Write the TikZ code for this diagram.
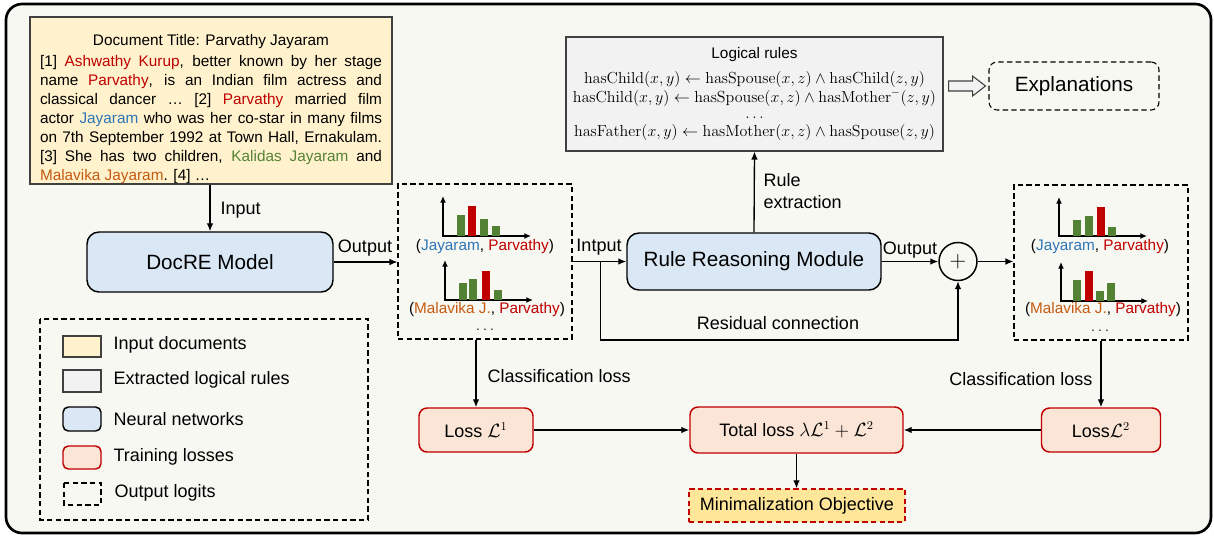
\documentclass[tikz,border=0pt]{standalone}
\usepackage[no-math]{fontspec}
\setmainfont{Liberation Sans}
\usetikzlibrary{arrows.meta,calc}

\definecolor{docyellow}{HTML}{FFF2CC}
\definecolor{rulegray}{HTML}{F2F2F2}
\definecolor{nnblue}{HTML}{DAE8F5}
\definecolor{losspink}{HTML}{FBE5D6}
\definecolor{lossred}{HTML}{C00000}
\definecolor{minyellow}{HTML}{FFE699}
\definecolor{bgcream}{HTML}{F8F8F2}
\definecolor{txtblue}{HTML}{2E75B6}
\definecolor{txtgreen}{HTML}{548235}
\definecolor{txtorange}{HTML}{C55A11}
\definecolor{edgegray}{HTML}{404040}

\tikzset{
  nnbox/.style={draw=black, line width=1.1pt, fill=nnblue, rounded corners=9pt, font=\fontsize{15.5}{18}\selectfont},
  lossbox/.style={draw=lossred, line width=1.1pt, fill=losspink, rounded corners=6pt, font=\fontsize{13.5}{16}\selectfont},
  logitbox/.style={draw, line width=0.8pt, dash pattern=on 4pt off 2.5pt},
  lbl/.style={font=\fontsize{13.5}{17}\selectfont, inner sep=1pt},
  small/.style={font=\fontsize{11.5}{14.25}\selectfont, inner sep=1pt},
  flow/.style={-{Latex[length=6pt,width=5pt]}, line width=1pt},
  axis/.style={{Latex[length=5pt,width=4.5pt]}-{Latex[length=5pt,width=4.5pt]}, line width=1.2pt},
}

\begin{document}
\begin{tikzpicture}[x=0.75pt,y=-0.75pt]
    \useasboundingbox (0,0) rectangle (1214,537);
    \draw[line width=2pt, fill=bgcream, rounded corners=12pt] (6,4) rectangle (1211,533);  % frame

    % input document
    \node[draw=edgegray, line width=0.8pt, fill=docyellow, minimum width=271.5pt, minimum height=125.25pt] (doc) at (211,100.5) {};
    \node[anchor=north, inner sep=0pt, text width=256.5pt, align=justify, font=\fontsize{11.5}{14.25}\selectfont] (docText) at (211,34) {%
        \centerline{Document Title: Parvathy Jayaram}\par\vspace{1.5pt}
        [1] \textcolor{lossred}{Ashwathy Kurup}, better known by her stage\break
        name \textcolor{lossred}{Parvathy}, is an Indian film actress and\break
        classical dancer … [2] \textcolor{lossred}{Parvathy} married film\break
        actor \textcolor{txtblue}{Jayaram} who was her co-star in many films\break
        on 7th September 1992 at Town Hall, Ernakulam.\break
        [3] She has two children, \textcolor{txtgreen}{Kalidas Jayaram} and\break
        \textcolor{txtorange}{Malavika Jayaram}. [4] …};

    % models
    \node[nnbox, minimum width=184.5pt, minimum height=45pt] (docre) at (210,262) {DocRE Model};
    \node[nnbox, minimum width=190.5pt, minimum height=42.75pt] (rrm) at (754,261.5) {Rule Reasoning Module};
    \node[draw, circle, line width=1.1pt, minimum size=28.5pt, inner sep=0pt, font=\fontsize{17}{17}\selectfont] (plus) at (958,261.5) {$+$};

    % logical rules
    \node[draw=edgegray, line width=0.8pt, fill=rulegray, minimum width=282.75pt, minimum height=85.5pt,
          align=center, font=\fontsize{11.8}{14.25}\selectfont] (rules) at (754.5,94) {%
        {\fontsize{11.5}{14}\selectfont Logical rules}\\[4pt]
        $\mathrm{hasChild}(x,y) \leftarrow \mathrm{hasSpouse}(x,z) \land \mathrm{hasChild}(z,y)$\\
        $\mathrm{hasChild}(x,y) \leftarrow \mathrm{hasSpouse}(x,z) \land \mathrm{hasMother}^{-}(z,y)$\\[-2pt]
        $\ldots$\\[-1pt]
        $\mathrm{hasFather}(x,y) \leftarrow \mathrm{hasMother}(x,z) \land \mathrm{hasSpouse}(z,y)$};
    \node[draw, line width=0.8pt, dash pattern=on 4pt off 2.5pt, rounded corners=6pt, minimum width=127.5pt,
          minimum height=36pt, font=\fontsize{15.5}{18}\selectfont] (expl) at (1074,86) {Explanations};

    % output logits
    \node[logitbox, minimum width=130.5pt, minimum height=116.25pt] (logitsA) at (485,261.5) {};
    \node[logitbox, minimum width=130.5pt, minimum height=116.25pt] (logitsB) at (1101,262.5) {};

    \draw[axis] (443,196) -- (443,236) -- (531,236);
    \foreach \xa/\ya/\c in {457/215/txtgreen, 468/206/lossred, 480/219/txtgreen, 492/226/txtgreen}
        \fill[\c] (\xa,236) rectangle (\xa+8,\ya);
    \node[small] (pairA1) at (485,247) {(\textcolor{txtblue}{Jayaram}, \textcolor{lossred}{Parvathy})};
    \draw[axis] (445,260) -- (445,300) -- (533,300);
    \foreach \xa/\ya/\c in {459/283/txtgreen, 469/279/txtgreen, 482/271/lossred, 494/290/txtgreen}
        \fill[\c] (\xa,300) rectangle (\xa+8,\ya);
    \node[small] (pairA2) at (487,310) {(\textcolor{txtorange}{Malavika J.}, \textcolor{lossred}{Parvathy})};
    \node[inner sep=0pt, font=\fontsize{11.5}{14}\selectfont] (dotsA) at (485,330) {$\ldots$};

    \draw[axis] (1059,197) -- (1059,236) -- (1147,236);
    \foreach \xa/\ya/\c in {1073/220/txtgreen, 1085/216/txtgreen, 1097/207/lossred, 1108/227/txtgreen}
        \fill[\c] (\xa,236) rectangle (\xa+8,\ya);
    \node[small] (pairB1) at (1100,247) {(\textcolor{txtblue}{Jayaram}, \textcolor{lossred}{Parvathy})};
    \draw[axis] (1061,262) -- (1061,301) -- (1148,301);
    \foreach \xa/\ya/\c in {1073/280/txtgreen, 1085/271/lossred, 1096/291/txtgreen, 1107/283/txtgreen}
        \fill[\c] (\xa,301) rectangle (\xa+8,\ya);
    \node[small] (pairB2) at (1103,310) {(\textcolor{txtorange}{Malavika J.}, \textcolor{lossred}{Parvathy})};
    \node[inner sep=0pt, font=\fontsize{11.5}{14}\selectfont] (dotsB) at (1100,331) {$\ldots$};

    % losses
    \node[lossbox, minimum width=85.5pt, minimum height=33pt] (loss1) at (476,430) {Loss $\mathcal{L}^1$};
    \node[lossbox, minimum width=159.75pt, minimum height=34.5pt] (total) at (796.5,430) {Total loss $\lambda\mathcal{L}^1+\mathcal{L}^2$};
    \node[lossbox, minimum width=89.25pt, minimum height=33pt] (loss2) at (1101,430) {Loss$\mathcal{L}^2$};
    \node[draw=lossred, line width=1.1pt, dash pattern=on 4pt off 2.5pt, fill=minyellow, minimum width=162pt,
          minimum height=24.75pt, font=\fontsize{13.5}{16}\selectfont] (minobj) at (797,505.5) {Minimalization Objective};

    % connectors
    \draw[flow] (doc.south -| docre.north) -- (docre.north);
    \node[lbl, anchor=west] (lbInput) at (219,210) {Input};
    \draw[flow] (docre.east) -- (docre.east -| logitsA.west);
    \node[lbl] (lbOutA) at (365,248) {Output};
    \draw[flow] (logitsA.east |- rrm.west) -- (rrm.west);
    \node[lbl] (lbIn) at (599,247) {Intput};
    \coordinate (resStart) at ($(logitsA.east |- rrm.west)+(28,0)$);
    \draw[flow] (resStart) -- ++(0,78.5) -| (plus.south);
    \node[lbl] (lbRes) at (778,323) {Residual connection};
    \draw[flow] (rrm.east) -- (plus.west);
    \node[lbl] (lbOutB) at (910,250) {Output};
    \draw[flow] (plus.east) -- (plus.east -| logitsB.west);
    \draw[flow] (rrm.north) -- (rules.south);
    \node[lbl, anchor=west, align=left] (lbRule) at (762,191) {Rule\\extraction};
    \draw[draw=edgegray, fill=rulegray, line width=0.8pt] ($(rules.east |- expl.west)+(5,-5)$) -- ++(24,0) -- ++(0,-5)
        -- ++(13,10) -- ++(-13,10) -- ++(0,-5) -- ++(-24,0) -- cycle;  % to explanations
    \draw[flow] (logitsA.south -| loss1.north) -- (loss1.north);
    \node[lbl, anchor=west] (lbClsA) at (486,376) {Classification loss};
    \draw[flow] (logitsB.south -| loss2.north) -- (loss2.north);
    \node[lbl, anchor=east] (lbClsB) at (1094,379) {Classification loss};
    \draw[flow] (loss1.east) -- (total.west);
    \draw[flow] (loss2.west) -- (total.east);
    \draw[flow] (total.south) -- (total.south |- minobj.north);

    % legend
    \draw[logitbox] (40,319) rectangle (368,520);
    \draw[draw=edgegray, line width=0.8pt, fill=docyellow] (63,336) rectangle (101,357);
    \draw[draw=edgegray, line width=0.8pt, fill=rulegray] (63,370) rectangle (101,392);
    \draw[draw=black, line width=1.1pt, fill=nnblue, rounded corners=4pt] (63,407) rectangle (101,431);
    \draw[draw=lossred, line width=1.1pt, fill=losspink, rounded corners=4pt] (63,446) rectangle (101,469);
    \draw[logitbox] (64,483) rectangle (101,505);
    \node[lbl, anchor=west] (lgDoc) at (112,345) {Input documents};
    \node[lbl, anchor=west] (lgRule) at (112,380) {Extracted logical rules};
    \node[lbl, anchor=west] (lgNN) at (112,419) {Neural networks};
    \node[lbl, anchor=west] (lgLoss) at (112,457) {Training losses};
    \node[lbl, anchor=west] (lgLogit) at (113,493) {Output logits};
\end{tikzpicture}
\end{document}
